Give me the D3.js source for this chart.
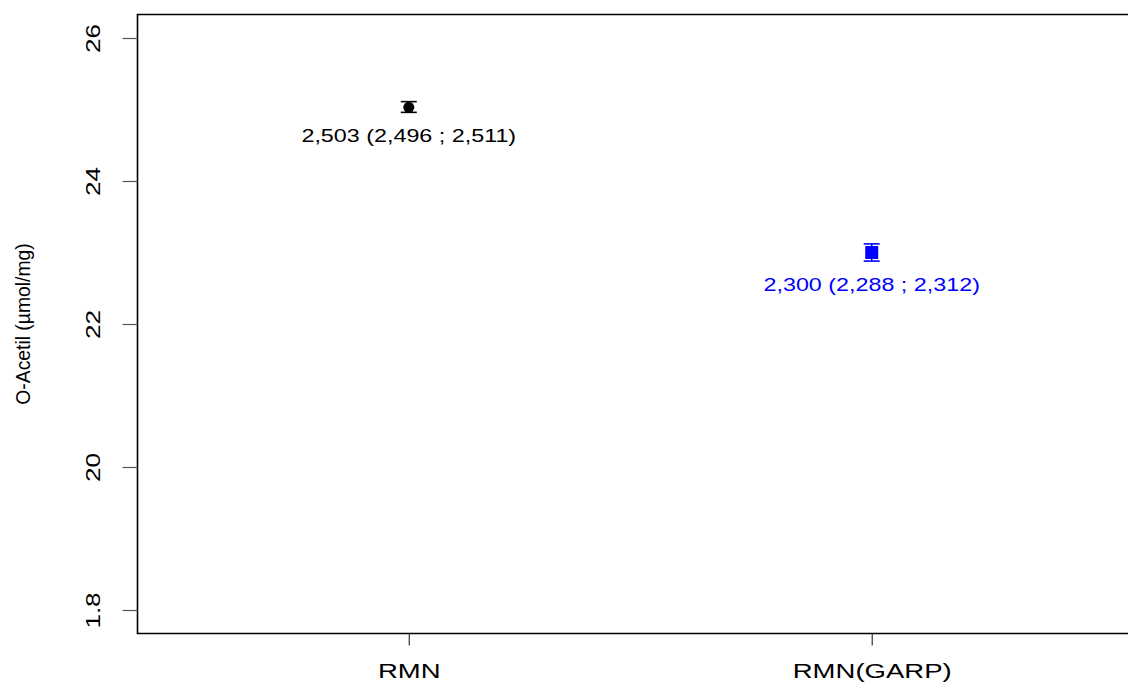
<!DOCTYPE html>
<html>
<head>
<meta charset="utf-8">
<script src="https://cdn.jsdelivr.net/npm/d3@7"></script>
<style>
html,body{margin:0;padding:0;background:#fff;}
svg{display:block;font-family:"Liberation Sans",Arial,sans-serif;}
</style>
</head>
<body>
<svg id="chart" width="1128" height="684"></svg>
<script>
const categories = ["RMN", "RMN(GARP)"];
const means = [2.503, 2.300];
const lower = [2.496, 2.288];
const upper = [2.511, 2.312];
const valueLabels = ["2,503 (2,496 ; 2,511)", "2,300 (2,288 ; 2,312)"];
const seriesColors = ["#000000", "#0000ff"];
const markerShapes = ["circle", "square"];
const yTicks = [1.8, 2.0, 2.2, 2.4, 2.6];
const yTickLabels = ["1.8", "20", "22", "24", "26"];
const yTitle = "O-Acetil (µmol/mg)";

const svg = d3.select("#chart");
const box = {left: 137.5, top: 14.5, bottom: 633.5, right: 1150};

const x = d3.scalePoint().domain(categories).range([box.left, 1143]).padding(0.586);
const y = d3.scaleLinear().domain([1.8, 2.6]).range([610, 38]);

// stretch helper: set textLength relative to natural width
function stretch(sel, factor) {
  sel.each(function() {
    const w = this.getComputedTextLength();
    d3.select(this).attr("textLength", w * factor).attr("lengthAdjust", "spacingAndGlyphs");
  });
}

// frame (left, top, bottom; right edge off-canvas)
svg.append("path")
  .attr("d", `M${box.right},${box.top}H${box.left}V${box.bottom}H${box.right}`)
  .attr("fill", "none").attr("stroke", "#000").attr("stroke-width", 1.6);

// y axis ticks
const yAxis = d3.axisLeft(y).tickValues(yTicks).tickSize(15).tickFormat((d, i) => yTickLabels[i]);
const gy = svg.append("g").attr("transform", `translate(${box.left},0)`).call(yAxis);
gy.select(".domain").remove();
gy.selectAll(".tick line").attr("stroke", "#555").attr("stroke-width", 1.2);
gy.selectAll(".tick text")
  .attr("x", null).attr("dy", null)
  .attr("transform", "translate(-38,0) rotate(-90)")
  .attr("text-anchor", "middle")
  .attr("font-size", 20).attr("fill", "#000")
  .attr("font-family", "'Liberation Sans',Arial,sans-serif")
  .call(stretch, 1.3);

// x axis ticks
const xAxis = d3.axisBottom(x).tickSize(12).tickPadding(18);
const gx = svg.append("g").attr("transform", `translate(0,${box.bottom})`).call(xAxis);
gx.select(".domain").remove();
gx.selectAll(".tick line").attr("stroke", "#333").attr("stroke-width", 1.2);
gx.selectAll(".tick text")
  .attr("font-size", 21).attr("fill", "#000")
  .attr("font-family", "'Liberation Sans',Arial,sans-serif")
  .call(stretch, 1.31);

// y title
svg.append("text")
  .attr("transform", `translate(30,${y(2.2)}) rotate(-90)`)
  .attr("text-anchor", "middle")
  .attr("font-size", 21)
  .text(yTitle)
  .call(stretch, 0.92);

// error bars + markers + labels
const data = categories.map((c, i) => ({c, m: means[i], lo: lower[i], hi: upper[i], lab: valueLabels[i], col: seriesColors[i], shape: markerShapes[i]}));
const capW = 16;
const g = svg.append("g");
data.forEach(d => {
  const cx = x(d.c);
  g.append("line").attr("x1", cx).attr("x2", cx).attr("y1", y(d.hi)).attr("y2", y(d.lo))
    .attr("stroke", d.col).attr("stroke-width", 1.5);
  [d.hi, d.lo].forEach(v => {
    g.append("line").attr("x1", cx - capW / 2).attr("x2", cx + capW / 2).attr("y1", y(v)).attr("y2", y(v))
      .attr("stroke", d.col).attr("stroke-width", 1.6);
  });
  if (d.shape === "circle") {
    g.append("circle").attr("cx", cx).attr("cy", y(d.m)).attr("r", 5.5).attr("fill", d.col);
  } else {
    g.append("rect").attr("x", cx - 6.5).attr("y", y(d.m) - 6.5).attr("width", 13).attr("height", 13).attr("fill", d.col);
  }
  g.append("text").attr("x", cx).attr("y", y(d.lo) + 30)
    .attr("text-anchor", "middle").attr("font-size", 18.5).attr("fill", d.col)
    .text(d.lab)
    .call(stretch, 1.26);
});
</script>
</body>
</html>
